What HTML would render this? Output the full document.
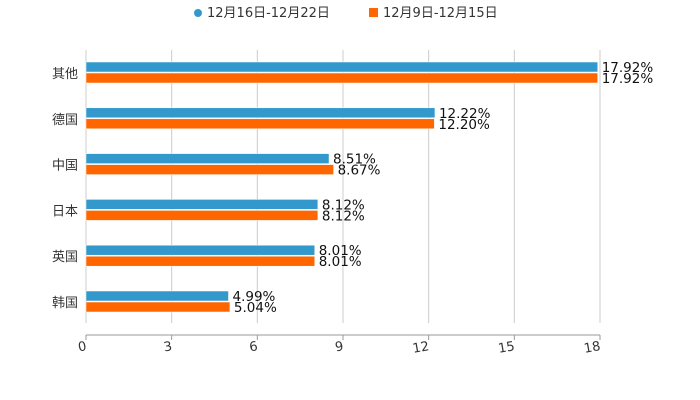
<!DOCTYPE html>
<html><head><meta charset="utf-8"><style>
body{margin:0;background:#fff;font-family:"DejaVu Sans","Noto Sans CJK SC",sans-serif}
</style></head><body>
<svg id="c" width="700" height="400" style="display:block;font-family:'DejaVu Sans','Noto Sans CJK SC',sans-serif">
<g id="legend">
 <g><circle cx="198" cy="13" r="4" fill="#3399cc"/><text x="207" y="17" font-size="13" fill="#333">12月16日-12月22日</text></g>
 <g><rect x="369" y="8" width="9" height="9" fill="#ff6600"/><text x="383" y="17" font-size="13" fill="#333">12月9日-12月15日</text></g>
</g>
</svg>
<script>
const categories=["其他","德国","中国","日本","英国","韩国"];
const seriesA=[17.92,12.22,8.51,8.12,8.01,4.99];
const seriesB=[17.92,12.20,8.67,8.12,8.01,5.04];
const ticks=[0,3,6,9,12,15,18];
const svg=document.getElementById('c');const NS='http://www.w3.org/2000/svg';
const x0=86,x1=600,plotTop=50,gridBottom=323,axisY=335;
const xs=v=>x0+(v/18)*(x1-x0);
const yc=i=>73+i*45.8;
function mk(t,a,p){const e=document.createElementNS(NS,t);for(const k in a)e.setAttribute(k,a[k]);(p||svg).appendChild(e);return e;}
ticks.forEach(t=>{
 const g=mk('line',{x1:xs(t),x2:xs(t),y1:plotTop,y2:gridBottom,stroke:'#ccc','stroke-width':1});
 
 
 mk('line',{x1:xs(t),x2:xs(t),y1:axisY,y2:axisY+5,stroke:'#999'});
 const l=mk('text',{x:xs(t)+1,y:axisY+15,'font-size':13,fill:'#333','text-anchor':'end',transform:`rotate(-10 ${xs(t)+1} ${axisY+15})`});
 l.textContent=t;
 
 
});
const ax=mk('line',{x1:x0,x2:x1,y1:axisY,y2:axisY,stroke:'#999'});


categories.forEach((c,i)=>{
 const y=yc(i);
 const lab=mk('text',{x:78,y:y+5,'font-size':13,fill:'#333','text-anchor':'end'});lab.textContent=c;
 
 
 [[seriesA,'#3399cc',y-11],[seriesB,'#ff6600',y]].forEach(([s,col,by],j)=>{
  const r=mk('rect',{x:x0,y:by,width:xs(s[i])-x0,height:10,fill:col,stroke:'#fff','stroke-width':0.5});
  
  
  const v=mk('text',{x:xs(s[i])+4,y:by+10,'font-size':13.5,fill:'#111'});v.textContent=s[i].toFixed(2)+'%';
  
  
 });
});
</script>
</body></html>
